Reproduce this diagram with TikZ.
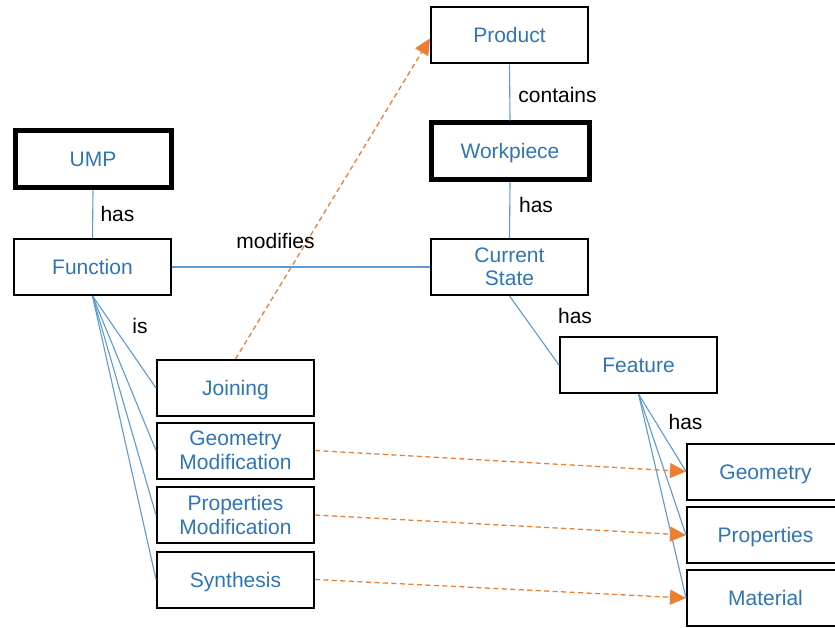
\documentclass[tikz,border=0pt]{standalone}
\usepackage{fontspec}
\setmainfont{Liberation Sans}
\usetikzlibrary{arrows.meta}
\definecolor{txtblue}{HTML}{2E75B6}
\definecolor{lineblue}{HTML}{5B9BD5}
\definecolor{arrorange}{HTML}{ED7D31}
\begin{document}
\begin{tikzpicture}[x=1pt,y=-1pt,
  every node/.style={font=\fontsize{21}{23.5}\selectfont},
  box/.style={draw=black,line width=2pt,rectangle,inner sep=0pt,text=txtblue,align=center,minimum width=157pt,minimum height=56pt},
  one/.style={text height=15pt,text depth=0pt},
  thickbox/.style={box,line width=5pt,minimum width=156pt,minimum height=57pt},
  rel/.style={draw=lineblue,line width=1.1pt},
  mod/.style={draw=arrorange,line width=1.3pt,dash pattern=on 5pt off 3.5pt,-{Triangle[length=16pt,width=15pt]}},
  lbl/.style={inner sep=0pt,text=black}]
\useasboundingbox (0,0) rectangle (835,628);
\node[thickbox,one] (ump) at (93,159.5) {UMP};
\node[box,one] (function) at (92.5,267) {Function};
\node[box,one] (product) at (509.5,35.5) {Product};
\node[thickbox,one,minimum width=158pt] (workpiece) at (510,151.5) {Workpiece};
\node[box] (state) at (509.5,267) {Current\\State};
\node[box,one] (feature) at (638.5,365) {Feature};
\node[box,one] (joining) at (235.5,388) {Joining};
\node[box] (geomod) at (235.5,450.5) {Geometry\\Modification};
\node[box] (propmod) at (235.5,515) {Properties\\Modification};
\node[box,one] (synth) at (235.5,579.5) {Synthesis};
\node[box,one] (geometry) at (765.5,471.5) {Geometry};
\node[box,one] (properties) at (765.5,535) {Properties};
\node[box,one] (material) at (765.5,598) {Material};
% relations
\draw[rel] (ump.south) -- (function.north);
\draw[rel] (function.east) -- (state.west);
\draw[rel] (product.south) -- (workpiece.north);
\draw[rel] (workpiece.south) -- (state.north);
\draw[rel] (state.south) -- (feature.west);
\foreach \t in {joining,geomod,propmod,synth}
  \draw[rel] (function.south) -- (\t.west);
\foreach \t in {geometry,properties,material}
  \draw[rel] (feature.south) -- (\t.west);
% modifies arrows
\draw[mod] (joining.north) -- ([yshift=-3pt]product.west);
\draw[mod] (geomod.east) -- (geometry.west);
\draw[mod] (propmod.east) -- (properties.west);
\draw[mod] (synth.east) -- (material.west);
% labels
\node[lbl] (l1) at (117.5,214) {has};
\node[lbl] (l2) at (275.5,241) {modifies};
\node[lbl] (l3) at (557.5,95) {contains};
\node[lbl] (l4) at (536,205) {has};
\node[lbl] (l5) at (575,316) {has};
\node[lbl] (l6) at (140,326) {is};
\node[lbl] (l7) at (685.5,422) {has};
\end{tikzpicture}
\end{document}
